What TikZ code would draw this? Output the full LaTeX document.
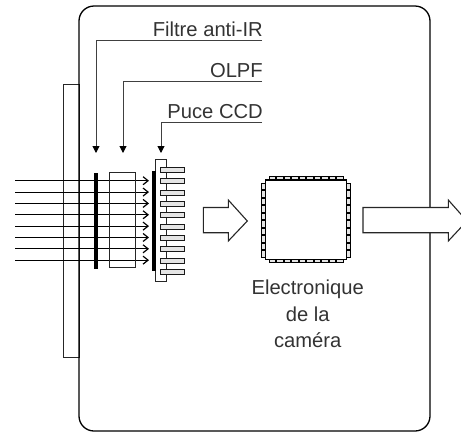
\documentclass[tikz,border=0pt]{standalone}
\usepackage{fontspec}
\setmainfont{Liberation Sans}
\usetikzlibrary{arrows.meta,calc}

\tikzset{
    legende/.style={font=\fontsize{20.2}{26.5}\selectfont, text=black!80, inner sep=0pt},
    plaque/.style={draw=black!85, line width=1pt, fill=none, inner sep=0pt},
    barre/.style={fill=black, inner sep=0pt},
    patte/.style={draw=black!90, line width=.9pt, fill=white!90!black, inner sep=0pt, minimum width=24pt, minimum height=5pt},
    plot/.style={draw=black, line width=1pt, fill=white!90!black, inner sep=0pt},
    repere/.style={draw=black!75, line width=1pt, -{Triangle[width=7pt,length=7pt,black]}},
    rayon/.style={draw=black, line width=1pt, -{Straight Barb[width=8pt,length=5pt,line width=1.2pt]}},
    fleche/.style={draw=black!85, line width=1.1pt, fill=white},
}

\begin{document}
\begin{tikzpicture}[x=1pt,y=-1pt]
    \useasboundingbox (0,0) rectangle (461,432);
    \clip (0,0) rectangle (461,432);

    % objectif et boitier
    \node[plaque, minimum width=16pt, minimum height=273pt] (objectif) at (71,220.5) {};
    \draw[black, line width=1.3pt, rounded corners=15pt] (79,6) rectangle (430,431);

    % rayons
    \foreach \i in {0,...,7} {
        \coordinate (entree\i) at (15,180.7+\i*11.35);
        \coordinate (sortie\i) at (149,180.7+\i*11.35);
        \draw[rayon] (entree\i) -- (sortie\i);
    }

    \node[barre, minimum width=4pt, minimum height=96pt] (filtre) at (96.3,220.5) {};
    \node[plaque, minimum width=26.5pt, minimum height=94.5pt] (olpf) at (122.7,220) {};

    % capteur
    \node[plaque, minimum width=10.5pt, minimum height=122pt] (boitier) at (161,220) {};
    \node[barre, minimum width=4pt, minimum height=100pt] (puce) at (153.7,220.7) {};
    \foreach \i in {0,...,9}
        \node[patte] (patte\i) at (172.3,170+\i*11.33) {};

    % legendes
    \node[legende, anchor=base east] (lfiltre) at (263,36.7) {Filtre anti-IR};
    \node[legende, anchor=base east] (lolpf) at (263,77.7) {OLPF};
    \node[legende, anchor=base east] (lpuce) at (263,118) {Puce CCD};
    \coordinate (dfiltre) at (262,40.5);
    \coordinate (dolpf) at (262,81);
    \coordinate (dpuce) at (262,122);
    \coordinate (cfiltre) at (96,153);
    \coordinate (colpf) at (123,153);
    \coordinate (cpuce) at (161,153);
    \draw[repere] (dfiltre) -| (cfiltre);
    \draw[repere] (dolpf) -| (colpf);
    \draw[repere] (dpuce) -| (cpuce);

    % fleches
    \draw[fleche] (203.3,207.5) -- (228.3,207.5) -- (228.3,200) -- (247.3,221) -- (228.3,241) -- (228.3,232.7) -- (203.3,232.7) -- cycle;
    \draw[fleche] (363,207.5) -- (448.3,207.5) -- (448.3,200) -- (467,221) -- (448.3,241) -- (448.3,232.7) -- (363,232.7) -- cycle;

    % circuit
    \foreach \i in {0,...,9} {
        \node[plot, minimum width=6.5pt, minimum height=3.5pt] (haut\i) at (272.3+\i*7.5,178.3) {};
        \node[plot, minimum width=6.5pt, minimum height=3.5pt] (bas\i) at (272.3+\i*7.5,261) {};
        \node[plot, minimum width=3.5pt, minimum height=6.5pt] (gauche\i) at (263.7,186.5+\i*7.5) {};
        \node[plot, minimum width=3.5pt, minimum height=6.5pt] (droite\i) at (348.5,186.5+\i*7.5) {};
    }
    \node[draw=black, line width=1.3pt, fill=white, inner sep=0pt, minimum width=81pt, minimum height=79.5pt] (circuit) at (306.2,219.7) {};

    \node[legende, anchor=north, align=center] (lelec) at (307.7,280) {Electronique\\de la\\caméra};
\end{tikzpicture}
\end{document}
